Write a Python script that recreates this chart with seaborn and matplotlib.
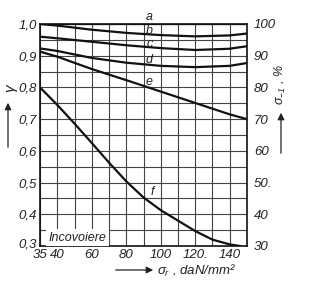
import numpy as np
import pandas as pd
import matplotlib
matplotlib.use("Agg")
import matplotlib.pyplot as plt
import matplotlib.transforms as mtransforms
import seaborn as sns

# ---- data ----
x_main = [35, 40, 60, 80, 100, 120, 140, 150]
curve_a = [1.0, 1.0, 1.0, 1.0, 1.0, 1.0, 1.0, 1.0]
curve_b = [1.000, 0.995, 0.982, 0.972, 0.965, 0.961, 0.964, 0.970]
curve_c = [0.960, 0.955, 0.944, 0.933, 0.924, 0.918, 0.922, 0.930]
curve_d = [0.923, 0.915, 0.893, 0.878, 0.868, 0.864, 0.868, 0.877]
curve_e = [0.913, 0.897, 0.858, 0.823, 0.787, 0.751, 0.715, 0.700]
x_f = [35, 40, 50, 60, 70, 80, 90, 100, 110, 120, 130, 140, 146]
curve_f = [0.800, 0.745, 0.686, 0.625, 0.563, 0.504, 0.453, 0.413, 0.380, 0.347, 0.320, 0.305, 0.300]

curve_names = ["a", "b", "c", "d", "e", "f"]
label_y = [1.022, 0.977, 0.937, 0.888, 0.817, 0.470]
label_x = 93.5

x_ticks = [35, 40, 60, 80, 100, 120, 140]
x_ticklabels = ["35", "40", "60", "80", "100", "120.", "140"]
y_ticks = [0.3, 0.4, 0.5, 0.6, 0.7, 0.8, 0.9, 1.0]
y_ticklabels = ["0,3", "0,4", "0,5", "0,6", "0,7", "0,8", "0,9", "1,0"]
y2_ticks = [30, 40, 50, 60, 70, 80, 90, 100]
y2_ticklabels = ["30", "40", "50.", "60", "70", "80", "90", "100"]

rows = []
for name, ys in zip(["a", "b", "c", "d", "e"], [curve_a, curve_b, curve_c, curve_d, curve_e]):
    for xv, yv in zip(x_main, ys):
        rows.append({"x": xv, "y": yv, "curve": name})
for xv, yv in zip(x_f, curve_f):
    rows.append({"x": xv, "y": yv, "curve": "f"})
df = pd.DataFrame(rows)

sns.set_style("white")
plt.rcParams["font.family"] = ["Liberation Sans", "DejaVu Sans"]
plt.rcParams["font.style"] = "italic"
plt.rcParams["mathtext.fontset"] = "custom"
plt.rcParams["mathtext.it"] = "Liberation Sans:italic"
plt.rcParams["mathtext.rm"] = "Liberation Sans:italic"

fig = plt.figure(figsize=(3.12, 2.88), dpi=100)
ax = fig.add_axes([40 / 312, 1 - 246 / 288, 207 / 312, 222 / 288])

sns.lineplot(data=df, x="x", y="y", hue="curve", units="curve", estimator=None,
             sort=False, palette=["#111111"] * 6, linewidth=1.6, legend=False, ax=ax)


def fwd(x):
    x = np.asarray(x, dtype=float)
    return np.where(x < 40, 40 - (40 - x) * 2.0, x)


def inv(x):
    x = np.asarray(x, dtype=float)
    return np.where(x < 40, 40 - (40 - x) / 2.0, x)


ax.set_xscale("function", functions=(fwd, inv))
ax.set_xlim(35, 150)
ax.set_ylim(0.3, 1.0)
ax.set_xticks(x_ticks)
ax.set_xticklabels(x_ticklabels)
ax.set_xticks([50, 70, 90, 110, 130], minor=True)
ax.set_yticks(y_ticks)
ax.set_yticklabels(y_ticklabels)
ax.set_yticks([0.35, 0.45, 0.55, 0.65, 0.75, 0.85, 0.95], minor=True)
ax.grid(True, which="both", color="#444444", linewidth=0.8)
ax.set_axisbelow(True)
ax.tick_params(which="both", length=0, labelsize=9.5, colors="#222222")
ax.tick_params(axis="x", pad=2)
ax.tick_params(axis="y", pad=2)
ax.set_xlabel("")
ax.set_ylabel("")
for s in ax.spines.values():
    s.set_color("#111111")
    s.set_linewidth(1.2)

# nudge the lowest left label up a little, as in the reference
lbl0 = ax.get_yticklabels()[0]
lbl0.set_transform(lbl0.get_transform() + mtransforms.ScaledTranslation(0, 3 / 100, fig.dpi_scale_trans))

ax2 = ax.twinx()
ax2.set_ylim(30, 100)
ax2.set_yticks(y2_ticks)
ax2.set_yticklabels(y2_ticklabels)
ax2.tick_params(length=0, labelsize=9.5, colors="#222222", pad=5)
for s in ax2.spines.values():
    s.set_visible(False)

for name, ly in zip(curve_names, label_y):
    lx = label_x + (1.5 if name == "f" else 0)
    ax.text(lx, ly, name, fontsize=9, ha="center", va="center", color="#222222",
            clip_on=False)

ax.text(37.5, 0.326, "Incovoiere", fontsize=9, ha="left", va="center", color="#222222",
        bbox=dict(boxstyle="square,pad=0.2", facecolor="white", edgecolor="none"))

fig.text(10 / 312, 1 - 88 / 288, "γ", rotation=90, fontsize=11, ha="center", va="center",
         color="#222222")
fig.patches.append(matplotlib.patches.FancyArrowPatch(
    (8 / 312, 1 - 150 / 288), (8 / 312, 1 - 100 / 288), transform=fig.transFigure,
    arrowstyle="-|>,head_length=4,head_width=2", color="#222222", linewidth=0.9))

fig.text(280 / 312, 1 - 85 / 288, r"$\sigma_{-1}$ , %", rotation=90, fontsize=9,
         ha="center", va="center", color="#222222")
fig.patches.append(matplotlib.patches.FancyArrowPatch(
    (281 / 312, 1 - 156 / 288), (281 / 312, 1 - 110 / 288), transform=fig.transFigure,
    arrowstyle="-|>,head_length=4,head_width=2", color="#222222", linewidth=0.9))

fig.patches.append(matplotlib.patches.FancyArrowPatch(
    (113 / 312, 1 - 270 / 288), (156 / 312, 1 - 270 / 288), transform=fig.transFigure,
    arrowstyle="-|>,head_length=4,head_width=2", color="#222222", linewidth=0.9))
fig.text(157 / 312, 1 - 271 / 288, r"$\sigma_r$ , daN/mm²", fontsize=9.5, ha="left",
         va="center", color="#222222")

fig.savefig("out.png", dpi=100, facecolor="white")
